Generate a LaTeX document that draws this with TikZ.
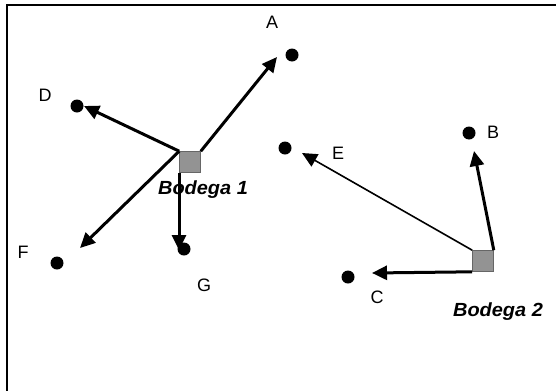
\documentclass[tikz,border=0pt]{standalone}
\usepackage{fontspec}
\setmainfont{Liberation Sans}
\usetikzlibrary{arrows.meta}
\begin{document}
\begin{tikzpicture}[x=1pt,y=-1pt,
  dot/.style={circle,fill=black,inner sep=0pt,minimum size=13pt},
  depot/.style={rectangle,fill=gray!85,draw=black!60,line width=0.6pt,inner sep=0pt,minimum size=21pt},
  lbl/.style={font=\fontsize{18}{18}\selectfont,inner sep=0pt},
  dlbl/.style={font=\fontsize{19}{19}\selectfont\bfseries\itshape,inner sep=0pt,xscale=1.05},
  arr/.style={line width=3pt,-{Triangle[length=15pt,width=14pt]}},
  thinarr/.style={line width=1.6pt,-{Triangle[length=15pt,width=14pt]}}]
\useasboundingbox (0,0) rectangle (556,391);
\coordinate (tl) at (7,4.5);
\coordinate (tr) at (556,4.5);
\coordinate (bl) at (7,391);
\draw[line width=2pt] (tr) -- (tl) -- (bl);
% depots
\node[depot] (b1) at (190,162) {};
\node[depot] (b2) at (483,261) {};
\node[dlbl] (b1l) at (203,190) {Bodega 1};
\node[dlbl] (b2l) at (498,312) {Bodega 2};
% customers
\node[dot] (A) at (292,55) {};
\node[dot] (D) at (77,106) {};
\node[dot] (E) at (285,148) {};
\node[dot] (F) at (57,263) {};
\node[dot] (G) at (184,249) {};
\node[dot] (B) at (469,133) {};
\node[dot] (C) at (348,277) {};
% labels
\node[lbl] (Al) at (272,22) {A};
\node[lbl] (Dl) at (45,95) {D};
\node[lbl] (El) at (338,153) {E};
\node[lbl] (Fl) at (23,252) {F};
\node[lbl] (Gl) at (204,285) {G};
\node[lbl] (Bl) at (493,132) {B};
\node[lbl] (Cl) at (377,297) {C};
% arrow tip coordinates
\coordinate (tA) at (277,57);
\coordinate (tD) at (84,106);
\coordinate (tF) at (80,248);
\coordinate (tG) at (179,250);
\coordinate (tB) at (474,151);
\coordinate (tE) at (302,153);
\coordinate (tC) at (372,273);
\draw[arr] (b1.north east) -- (tA);
\draw[arr] (b1.north west) -- (tD);
\draw[arr] (b1.north west) -- (tF);
\draw[arr] ([xshift=-11pt]b1.south) -- (tG);
\draw[arr] (b2.north east) -- (tB);
\draw[thinarr] (b2.north west) -- (tE);
\draw[arr] (b2.south west) -- (tC);
\end{tikzpicture}
\end{document}
